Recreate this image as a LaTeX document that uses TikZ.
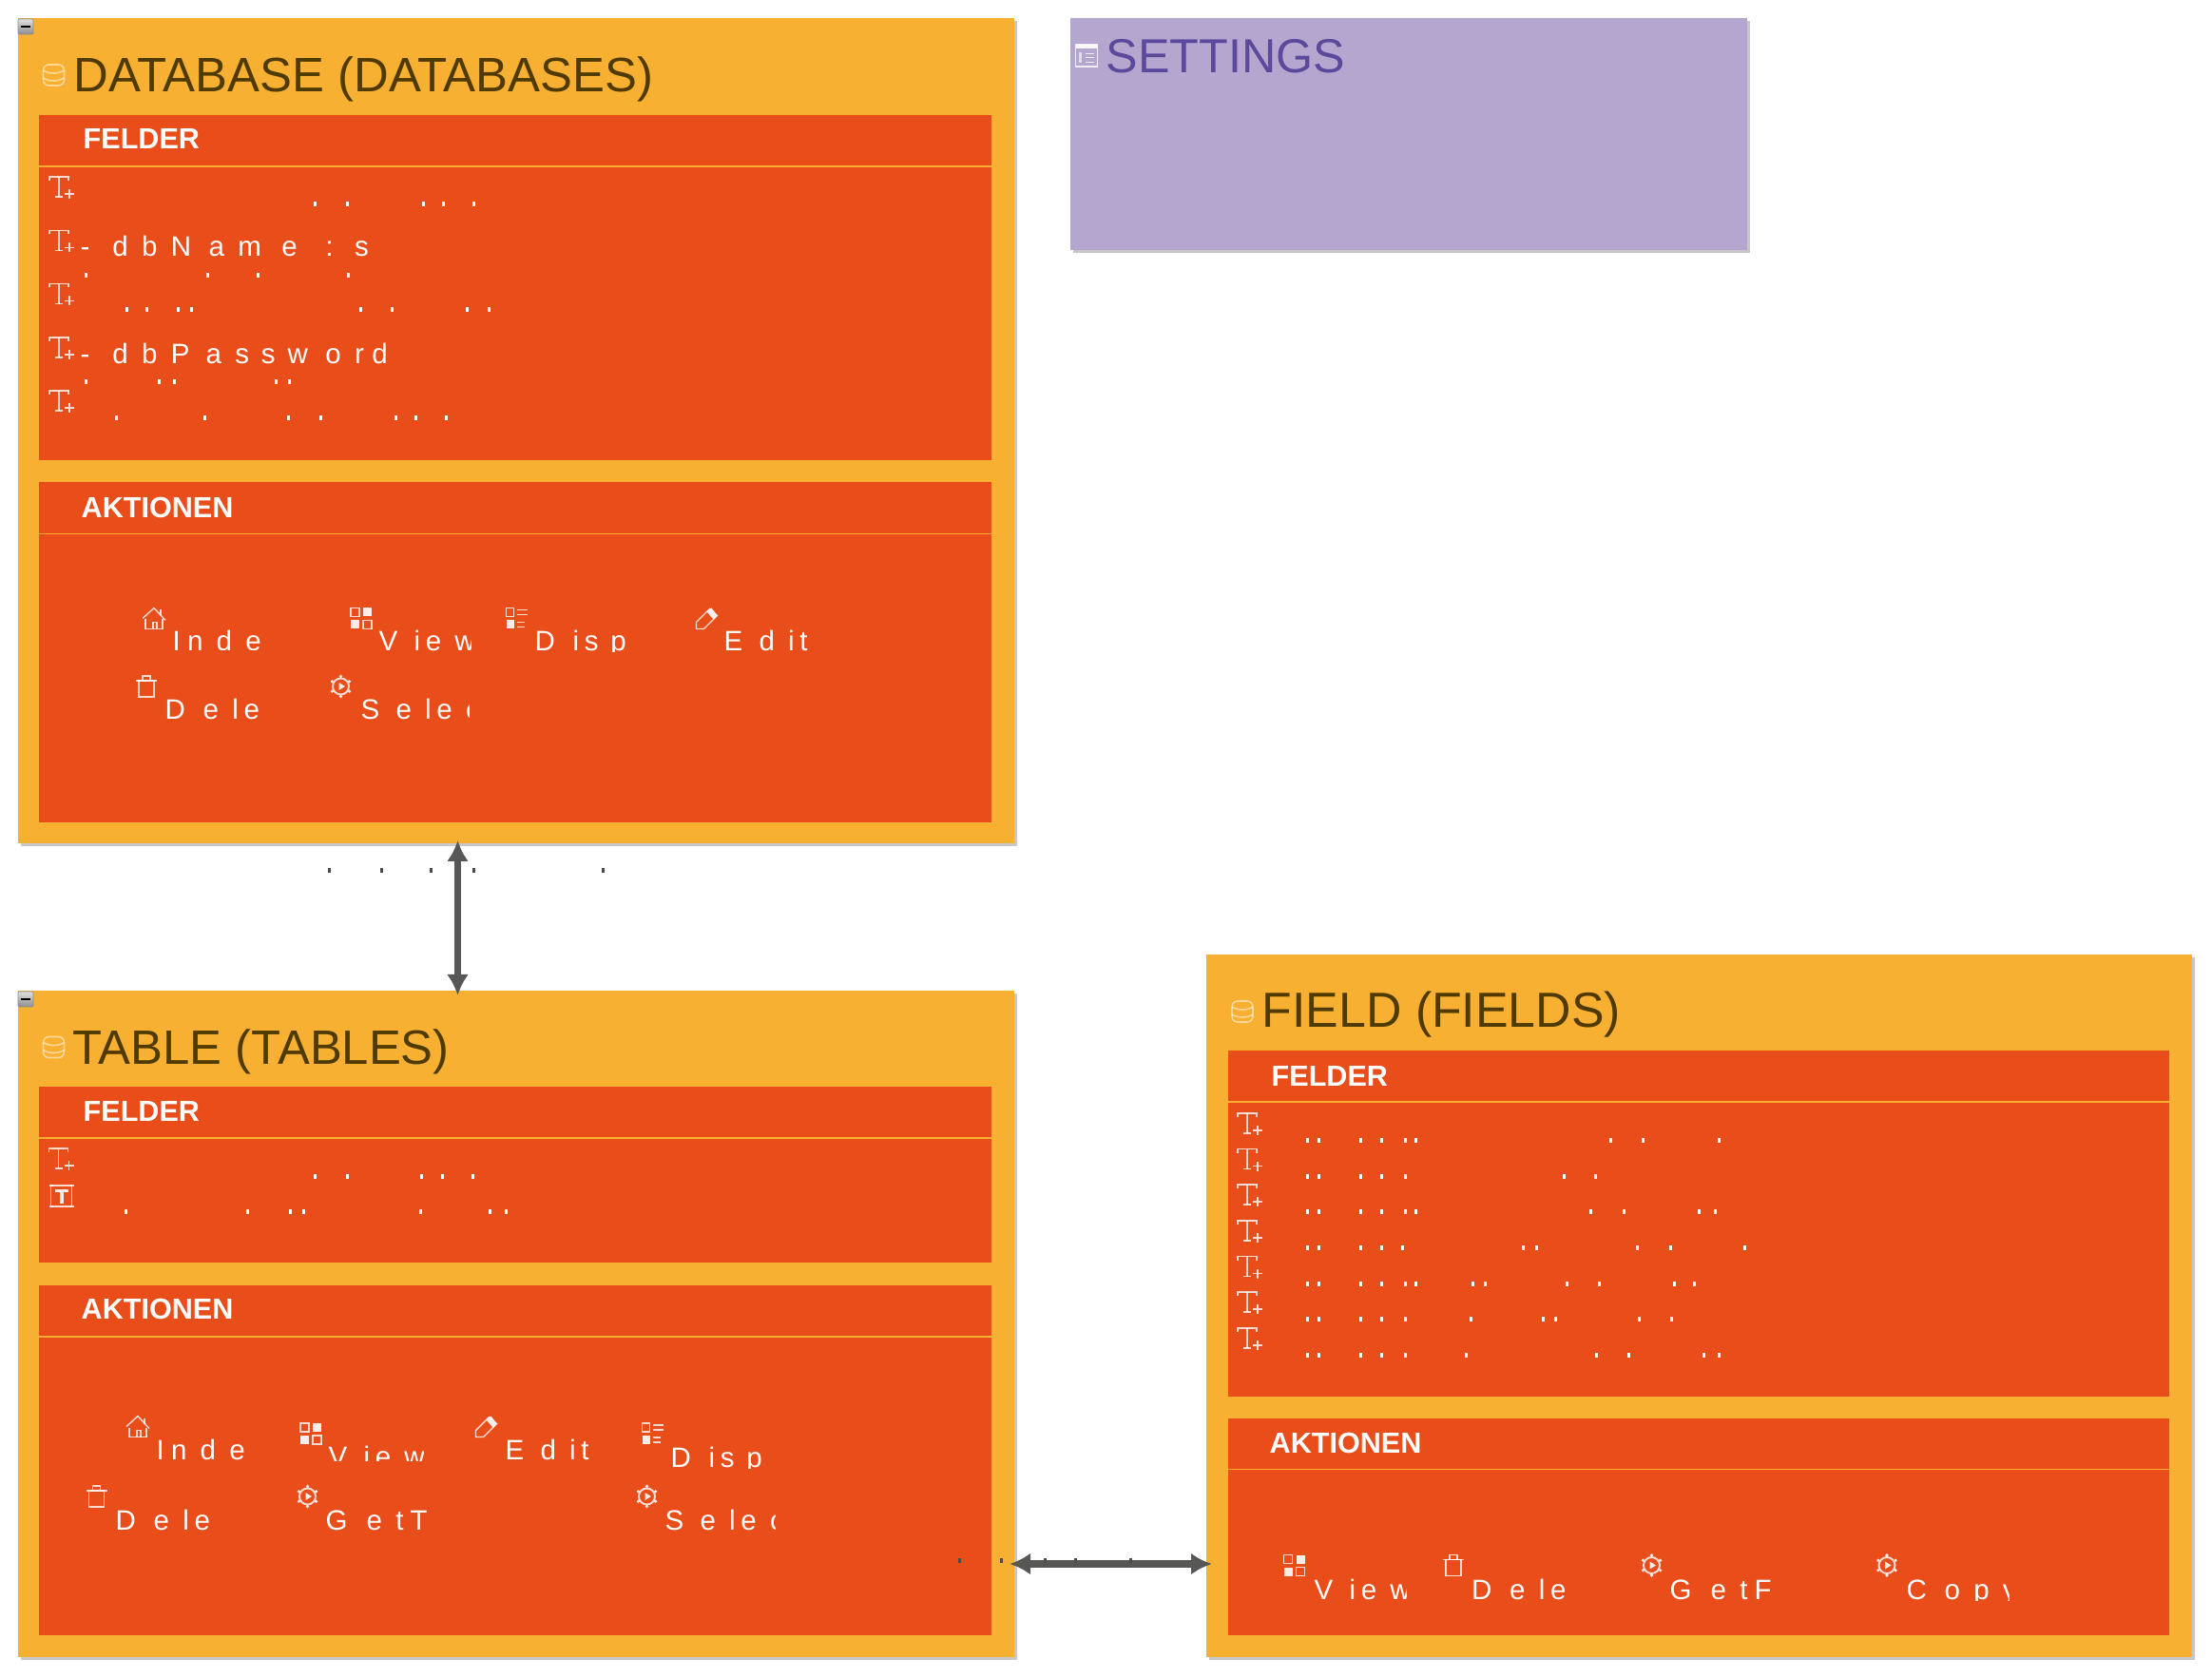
\documentclass[tikz,border=0pt]{standalone}
\usepackage{fontspec}
\setmainfont{Liberation Sans}
\usepackage{xcolor}
\usepackage{tikz}
\usetikzlibrary{calc}
\usetikzlibrary{arrows.meta}
\usetikzlibrary{shadows}

\definecolor{boxorange}{HTML}{F8B032}
\definecolor{panelred}{HTML}{E84D1A}
\definecolor{boxpurple}{HTML}{B5A6CF}
\definecolor{titlebrown}{HTML}{4F3A00}
\definecolor{titlepurple}{HTML}{5B4A9C}
\definecolor{relgray}{HTML}{575756}

\tikzset{
	boxshadow/.style={drop shadow={shadow xshift=0.03cm,shadow yshift=-0.03cm,fill=black!22,opacity=1}},
	entitybox/.style={anchor=north west,fill=boxorange,inner sep=0,outer sep=0,boxshadow},
	settingsbox/.style={anchor=north west,fill=boxpurple,inner sep=0,outer sep=0,boxshadow},
	panelbox/.style={anchor=north west,fill=panelred,inner sep=0,outer sep=0},
	panelrule/.style={draw=boxorange,line width=0.35pt},
	titletext/.style={anchor=base west,inner sep=0,text=titlebrown,font=\fontsize{#1}{16}\selectfont},
	titletext/.default=14.3,
	headtext/.style={anchor=base west,inner sep=0,text=white,font=\bfseries\fontsize{8.7}{10}\selectfont},
	labeltext/.style={anchor=base west,inner sep=0,text=white,font=\fontsize{8.4}{10}\selectfont},
	collapsebtn/.style={anchor=north west,minimum width=0.16cm,minimum height=0.16cm,inner sep=0,outer sep=0,rounded corners=0.3pt,draw=black!45,line width=0.2pt,top color=black!12,bottom color=black!45},
	relarrow/.style={draw=relgray,line width=2pt,{Latex[length=0.22cm,width=0.23cm]}-{Latex[length=0.22cm,width=0.23cm]}},
	iconline/.style={draw=white,line width=0.4pt,opacity=0.8},
	iconfill/.style={fill=white,opacity=0.9},
	dbline/.style={draw=white,line width=0.45pt,opacity=0.5},
	homeicon/.pic={
		\draw[iconline] (-0.12,0.0)--(0,0.11)--(0.12,-0.02);
		\draw[iconline] (-0.09,-0.01)--(-0.09,-0.11)--(0.09,-0.11)--(0.09,-0.01);
		\draw[iconline] (-0.01,-0.11)--(-0.01,-0.04)--(0.03,-0.04)--(0.03,-0.11);
		\draw[iconline] (0.07,0.09)--(0.07,0.03);
	},
	gridicon/.pic={
		\draw[iconline] (-0.11,0.02) rectangle (-0.02,0.11);
		\fill[iconfill] (0.02,0.02) rectangle (0.11,0.11);
		\fill[iconfill] (-0.11,-0.11) rectangle (-0.02,-0.02);
		\draw[iconline] (0.02,-0.11) rectangle (0.11,-0.02);
	},
	listicon/.pic={
		\draw[iconline] (-0.11,0.02) rectangle (-0.03,0.11);
		\fill[iconfill] (-0.11,-0.11) rectangle (-0.03,-0.02);
		\draw[iconline] (0.0,0.09)--(0.11,0.09) (0.0,0.04)--(0.11,0.04) (0.0,-0.04)--(0.08,-0.04) (0.0,-0.09)--(0.08,-0.09);
	},
	penicon/.pic={
		\draw[iconline] (-0.11,-0.11)--(-0.11,-0.04)--(0.03,0.1)--(0.11,0.03)--(-0.03,-0.11)--cycle;
		\fill[iconfill] (0.0,0.07)--(0.05,0.11)--(0.11,0.03)--(0.07,-0.01)--cycle;
	},
	trashicon/.pic={
		\draw[iconline] (-0.08,0.06) rectangle (0.08,-0.11);
		\draw[iconline] (-0.11,0.06)--(0.11,0.06);
		\draw[iconline] (-0.04,0.06)--(-0.04,0.11)--(0.04,0.11)--(0.04,0.06);
	},
	gearicon/.pic={
		\draw[iconline,line width=0.55pt] (0,0) circle (0.085);
		\foreach \ang in {30,90,...,330}
			\fill[iconfill] (\ang:0.105) circle (0.018);
		\fill[iconfill] (-0.02,0.04)--(0.045,0)--(-0.02,-0.04)--cycle;
	},
	fieldicon/.pic={
		\draw[iconline] (-0.13,0.07)--(-0.13,0.11)--(0.07,0.11)--(0.07,0.07);
		\draw[iconline] (-0.03,0.11)--(-0.03,-0.1);
		\draw[iconline] (-0.07,-0.1)--(0.01,-0.1);
		\draw[iconline] (0.03,-0.07)--(0.13,-0.07) (0.08,-0.02)--(0.08,-0.12);
	},
	keyicon/.pic={
		\draw[iconline] (-0.11,-0.11) rectangle (0.11,0.11);
		\draw[iconline] (-0.13,0.11)--(-0.09,0.11) (0.09,0.11)--(0.13,0.11) (-0.13,-0.11)--(-0.09,-0.11) (0.09,-0.11)--(0.13,-0.11);
		\fill[iconfill] (-0.07,0.07) rectangle (0.07,0.04);
		\fill[iconfill] (-0.02,0.05) rectangle (0.02,-0.08);
	},
	dbicon/.pic={
		\draw[dbline,rounded corners=0.06cm] (-0.11,-0.11) rectangle (0.11,0.11);
		\draw[dbline] (-0.11,0.05) .. controls (-0.05,0.01) and (0.05,0.01) .. (0.11,0.05);
		\draw[dbline] (-0.11,-0.03) .. controls (-0.05,-0.07) and (0.05,-0.07) .. (0.11,-0.03);
	},
	formicon/.pic={
		\draw[iconline] (-0.115,-0.115) rectangle (0.115,0.115);
		\fill[iconfill] (-0.115,0.07) rectangle (0.115,0.115);
		\fill[iconfill,opacity=0.6] (-0.08,-0.08) rectangle (-0.05,0.03);
		\draw[iconline] (-0.01,0.02)--(0.08,0.02) (-0.01,-0.02)--(0.08,-0.02) (-0.01,-0.07)--(0.08,-0.07);
	}
}

% every letter gets a wider slot
\makeatletter
\newlength{\slotwd}
\newcommand{\spacedletters}[1]{%
	\@tfor\slotchar:=#1\do{\settowidth{\slotwd}{\slotchar}\hbox to 1.87\slotwd{\slotchar\hss}}%
}
\makeatother
% label that is cut off at its lower right corner
\newcommand{\actionitem}[9]{
	\pic at (#3,#4) {#2};
	\begin{scope}
		\clip (#5-0.05,#6+0.3) rectangle (#7,#8);
		\node[labeltext] (#1) at (#5-0.02,#6) {\spacedletters{#9}};
	\end{scope}
}
% tops of the cut text lines
\newcommand{\fragrow}[3][white]{
	\foreach \x in {#3}
		\fill[#1] (\x,#2) rectangle (\x+0.03,#2-0.05);
}
\newcommand{\panelpart}[5]{
	\node[panelbox,minimum width=#4 cm,minimum height=#5 cm] (#1) at (#2,#3) {};
	\draw[panelrule] ([yshift=-0.54cm]#1.north west) -- ([yshift=-0.54cm]#1.north east);
}

\begin{document}
\begin{tikzpicture}
	\useasboundingbox (0,0) rectangle (23.27,-17.65);

	% boxes
	\node[entitybox,minimum width=10.48cm,minimum height=8.68cm] (database) at (0.19,-0.19) {};
	\node[entitybox,minimum width=10.48cm,minimum height=7.01cm] (tablebox) at (0.19,-10.42) {};
	\node[entitybox,minimum width=10.37cm,minimum height=7.39cm] (fieldbox) at (12.69,-10.04) {};
	\node[settingsbox,minimum width=7.12cm,minimum height=2.44cm] (settings) at (11.26,-0.19) {};

	% panels
	\panelpart{dbFields}{0.41}{-1.21}{10.02}{3.63}
	\panelpart{dbActions}{0.41}{-5.075}{10.02}{3.575}
	\panelpart{tblFields}{0.41}{-11.43}{10.02}{1.85}
	\panelpart{tblActions}{0.41}{-13.52}{10.02}{3.68}
	\panelpart{fldFields}{12.92}{-11.05}{9.90}{3.64}
	\panelpart{fldActions}{12.92}{-14.915}{9.90}{2.285}

	% collapse buttons
	\node[collapsebtn] (dbCollapse) at (0.19,-0.20) {};
	\fill[black] ([xshift=-0.05cm,yshift=-0.01cm]dbCollapse.center) rectangle ([xshift=0.05cm,yshift=0.01cm]dbCollapse.center);
	\node[collapsebtn] (tblCollapse) at (0.19,-10.43) {};
	\fill[black] ([xshift=-0.05cm,yshift=-0.01cm]tblCollapse.center) rectangle ([xshift=0.05cm,yshift=0.01cm]tblCollapse.center);

	% titles
	\pic at (0.565,-0.79) {dbicon};
	\node[titletext=14.47] (dbTitle) at (0.77,-0.97) {DATABASE (DATABASES)};
	\pic at (0.565,-11.015) {dbicon};
	\node[titletext=14.45] (tblTitle) at (0.76,-11.19) {TABLE (TABLES)};
	\pic at (13.07,-10.64) {dbicon};
	\node[titletext=14.75] (fldTitle) at (13.27,-10.81) {FIELD (FIELDS)};
	\pic at (11.43,-0.585) {formicon};
	\node[titletext,text=titlepurple] (setTitle) at (11.63,-0.77) {SETTINGS};

	% headings
	\node[headtext] (dbFelder) at (0.87,-1.57) {FELDER};
	\node[headtext] (dbAktionen) at (0.85,-5.45) {AKTIONEN};
	\node[headtext] (tblFelder) at (0.87,-11.79) {FELDER};
	\node[headtext] (tblAktionen) at (0.85,-13.87) {AKTIONEN};
	\node[headtext] (fldFelder) at (13.37,-11.42) {FELDER};
	\node[headtext] (fldAktionen) at (13.35,-15.28) {AKTIONEN};

	% database fields
	\foreach \y in {-1.97,-2.535,-3.095,-3.66,-4.22}
		\pic at (0.65,\y) {fieldicon};
	\node[labeltext] (dbName) at (0.84,-2.70) {\spacedletters{-~dbName~:~s}};
	\node[labeltext] (dbPassword) at (0.84,-3.83) {\spacedletters{-~dbPassword}};
	\fragrow{-2.12}{3.30,3.64,4.44,4.65,4.97}
	\fragrow{-2.87}{0.89,2.17,2.70,3.65}
	\fragrow{-3.23}{1.32,1.53,1.86,2.00,3.78,4.11,4.90,5.13}
	\fragrow{-3.99}{0.89,1.66,1.82,2.89,3.03}
	\fragrow{-4.37}{1.21,2.14,3.02,3.36,4.15,4.36,4.68}

	% table fields
	\pic at (0.645,-12.19) {fieldicon};
	\pic at (0.645,-12.58) {keyicon};
	\fragrow{-12.35}{3.30,3.64,4.42,4.64,4.96}
	\fragrow{-12.72}{1.31,2.59,3.04,3.18,4.41,5.14,5.31}

	% field fields
	\foreach \y in {-11.82,-12.195,-12.57,-12.95,-13.325,-13.70,-14.08}
		\pic at (13.15,\y) {fieldicon};
	\fragrow{-11.97}{13.74,13.86,14.30,14.52,14.77,14.88,16.93,17.27,18.07}
	\fragrow{-12.345}{13.74,13.86,14.30,14.52,14.77,16.44,16.77}
	\fragrow{-12.72}{13.74,13.86,14.30,14.52,14.77,14.88,16.72,17.065,17.855,18.03}
	\fragrow{-13.10}{13.74,13.86,14.30,14.52,14.74,16.01,16.15,17.21,17.56,18.34}
	\fragrow{-13.475}{13.74,13.86,14.30,14.52,14.77,14.88,15.48,15.61,16.47,16.81,17.60,17.81}
	\fragrow{-13.85}{13.74,13.86,14.30,14.52,14.77,15.46,16.22,16.35,17.23,17.57}
	\fragrow{-14.23}{13.74,13.86,14.30,14.52,14.77,15.41,16.78,17.12,17.91,18.07}

	% database actions
	\actionitem{dbIndex}{homeicon}{1.62}{-6.505}{1.83}{-6.85}{2.775}{-6.84}{Inde}
	\actionitem{dbView}{gridicon}{3.80}{-6.505}{4.00}{-6.85}{4.95}{-6.87}{View}
	\actionitem{dbDisp}{listicon}{5.435}{-6.505}{5.64}{-6.85}{6.61}{-6.86}{Disp}
	\actionitem{dbEdit}{penicon}{7.435}{-6.505}{7.63}{-6.85}{8.53}{-6.87}{Edit}
	\actionitem{dbDelete}{trashicon}{1.54}{-7.22}{1.75}{-7.57}{2.73}{-7.60}{Dele}
	\actionitem{dbSelect}{gearicon}{3.585}{-7.22}{3.81}{-7.57}{4.93}{-7.60}{Selec}

	% table actions
	\actionitem{tblIndex}{homeicon}{1.45}{-15.005}{1.66}{-15.35}{2.60}{-15.37}{Inde}
	\actionitem{tblView}{gridicon}{3.27}{-15.08}{3.47}{-15.42}{4.45}{-15.36}{View}
	\actionitem{tblEdit}{penicon}{5.115}{-15.005}{5.33}{-15.35}{6.20}{-15.37}{Edit}
	\actionitem{tblDisp}{listicon}{6.865}{-15.08}{7.07}{-15.43}{8.04}{-15.44}{Disp}
	\actionitem{tblDelete}{trashicon}{1.015}{-15.74}{1.23}{-16.09}{2.21}{-16.12}{Dele}
	\actionitem{tblGetT}{gearicon}{3.235}{-15.74}{3.44}{-16.09}{4.48}{-16.12}{GetT}
	\actionitem{tblSelect}{gearicon}{6.805}{-15.74}{7.01}{-16.09}{8.15}{-16.12}{Selec}

	% field actions
	\actionitem{fldView}{gridicon}{13.615}{-16.465}{13.84}{-16.82}{14.79}{-16.84}{View}
	\actionitem{fldDelete}{trashicon}{15.29}{-16.465}{15.495}{-16.82}{16.49}{-16.84}{Dele}
	\actionitem{fldGetF}{gearicon}{17.375}{-16.465}{17.58}{-16.82}{18.65}{-16.84}{GetF}
	\actionitem{fldCopy}{gearicon}{19.85}{-16.465}{20.07}{-16.82}{21.13}{-16.83}{Copy}

	% relations
	\coordinate (relX) at (4.815,0);
	\coordinate (relY) at (0,-16.45);
	\draw[relarrow,shorten <=-0.03cm,shorten >=-0.05cm] (database.south -| relX) -- (tablebox.north -| relX);
	\draw[relarrow,line width=2.4pt,shorten <=-0.05cm,shorten >=-0.06cm] (tablebox.east |- relY) -- (fieldbox.west |- relY);
	\fragrow[black!70]{-9.13}{3.45,4.00,4.52,4.97,6.33}
	\fragrow[black!70]{-16.39}{10.08,10.52,10.98,11.30,11.88}
\end{tikzpicture}
\end{document}
